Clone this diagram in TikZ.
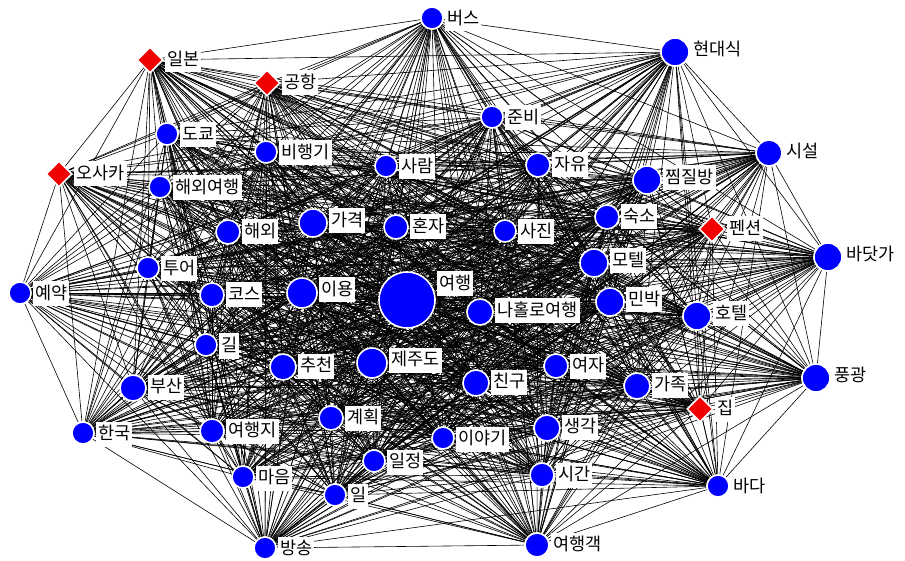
\documentclass[tikz,border=0pt]{standalone}
\usepackage{fontspec}
\setmainfont{Noto Sans CJK KR}
\usetikzlibrary{shapes.geometric}
\pgfdeclarelayer{bglayer}
\pgfdeclarelayer{edgelayer}
\pgfdeclarelayer{labellayer}
\pgfsetlayers{bglayer,edgelayer,main,labellayer}
\definecolor{nblue}{RGB}{0,0,255}
\definecolor{nred}{RGB}{240,0,0}
\tikzset{
  vc/.style={circle, fill=nblue, draw=white, line width=1.6pt, inner sep=0pt},
  vd/.style={diamond, fill=nred, draw=white, line width=1.6pt, inner sep=0pt, minimum size=26pt},
  lab/.style={anchor=west, rectangle, fill=white, draw=none, inner xsep=2pt, inner ysep=4pt, text height=14pt, text depth=3pt, font=\fontsize{17.5}{17.5}\selectfont},
  edge/.style={draw=black, line width=0.6pt}
}
\newcommand\NN[5]{%
  \node[vc, minimum size=#4*2pt] (n#1) at (#2,#3) {};
  \begin{pgfonlayer}{labellayer}
  \node[lab] (l#1) at ({#2+#4+2},{#3-#4+12}) {#5};
  \end{pgfonlayer}}
\newcommand\ND[4]{%
  \node[vd] (n#1) at (#2,#3) {};
  \begin{pgfonlayer}{labellayer}
  \node[lab] (l#1) at ({#2+15},{#3}) {#4};
  \end{pgfonlayer}}
\begin{document}
\begin{tikzpicture}[x=1pt,y=-1pt]
\begin{pgfonlayer}{bglayer}
\fill[white] (0,0) rectangle (905,561);
\end{pgfonlayer}
\useasboundingbox (0,0) rectangle (905,561);
\NN{1}{432}{18}{11}{버스}
\NN{2}{675}{52}{14}{현대식}
\ND{3}{150}{60}{일본}
\ND{4}{267}{83}{공항}
\NN{5}{492}{117}{11}{준비}
\NN{6}{167}{134}{11}{도쿄}
\NN{7}{266}{152}{11}{비행기}
\NN{8}{769}{153}{13}{시설}
\ND{9}{59}{174}{오사카}
\NN{10}{386}{166}{11}{사람}
\NN{11}{538}{165}{12}{자유}
\NN{12}{647}{180}{14}{찜질방}
\NN{13}{160}{187}{11}{해외여행}
\NN{14}{313}{223}{14}{가격}
\NN{15}{396}{227}{12}{혼자}
\NN{16}{505}{231}{11}{사진}
\NN{17}{607}{217}{12}{숙소}
\ND{18}{712}{229}{펜션}
\NN{19}{228}{232}{12}{해외}
\NN{20}{828}{257}{14}{바닷가}
\NN{21}{594}{263}{14}{모텔}
\NN{22}{148}{268}{11}{투어}
\NN{23}{407}{300}{28}{여행}
\NN{24}{20}{293}{11}{예약}
\NN{25}{212}{295}{12}{코스}
\NN{26}{302}{293}{15}{이용}
\NN{27}{610}{302}{14}{민박}
\NN{28}{480}{312}{13}{나홀로여행}
\NN{29}{697}{316}{14}{호텔}
\NN{30}{206}{345}{11}{길}
\NN{31}{283}{367}{13}{추천}
\NN{32}{372}{363}{15}{제주도}
\NN{33}{816}{378}{14}{풍광}
\NN{34}{133}{388}{13}{부산}
\NN{35}{476}{383}{13}{친구}
\NN{36}{556}{366}{12}{여자}
\NN{37}{637}{386}{13}{가족}
\NN{38}{331}{418}{12}{계획}
\ND{39}{700}{409}{집}
\NN{40}{83}{433}{11}{한국}
\NN{41}{212}{431}{12}{여행지}
\NN{42}{443}{438}{11}{이야기}
\NN{43}{547}{428}{13}{생각}
\NN{44}{243}{477}{11}{마음}
\NN{45}{374}{461}{11}{일정}
\NN{46}{542}{475}{12}{시간}
\NN{47}{335}{495}{11}{일}
\NN{48}{718}{486}{11}{바다}
\NN{49}{265}{548}{11}{방송}
\NN{50}{537}{545}{12}{여행객}
\begin{pgfonlayer}{edgelayer}
\foreach \i in {1,...,49}{
  \pgfmathtruncatemacro\jstart{\i+1}
  \foreach \j in {\jstart,...,50}{
    \draw[edge] (n\i) -- (n\j);
  }
}
\end{pgfonlayer}
\end{tikzpicture}
\end{document}
